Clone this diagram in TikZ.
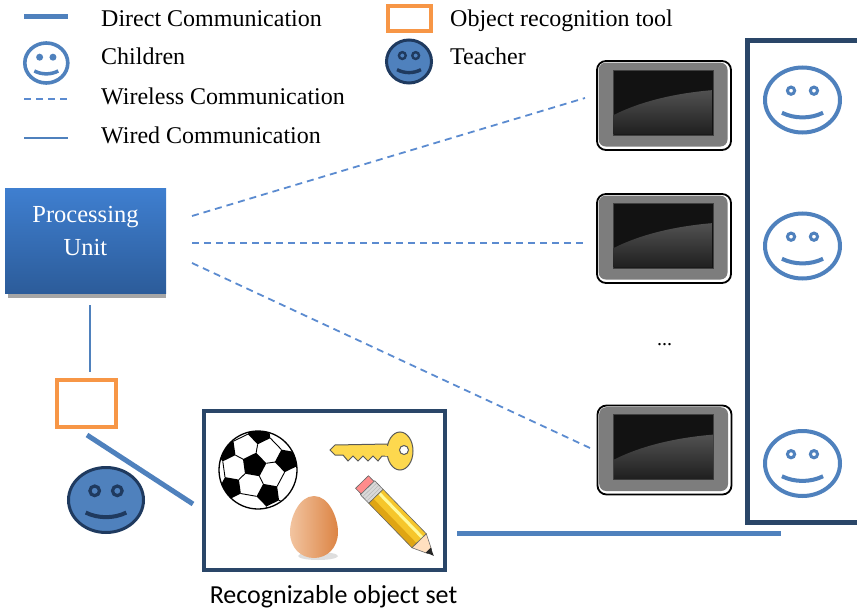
\documentclass[tikz,border=0pt]{standalone}
\usepackage{fontspec}
\setmainfont{Liberation Serif}
\newfontfamily\labelsans{Carlito}
\usetikzlibrary{shapes.geometric,calc}

\definecolor{linkblue}{HTML}{4F81BD}
\definecolor{wireblue}{HTML}{5B8BD0}
\definecolor{navy}{HTML}{2A4668}
\definecolor{toolorange}{HTML}{F79646}
\definecolor{teachedge}{HTML}{1F3A5F}
\definecolor{puTop}{HTML}{3F7FD0}
\definecolor{puBottom}{HTML}{2C5C9A}
\definecolor{keyyellow}{HTML}{FDD84E}
\definecolor{pencilyellow}{HTML}{F6C62B}
\definecolor{pencilshade}{HTML}{DFA514}
\definecolor{eggLight}{HTML}{F2C4A0}
\definecolor{eggDark}{HTML}{DC8444}

\tikzset{
  direct/.style={linkblue, line width=5pt},
  wired/.style={linkblue, line width=2pt},
  wireless/.style={wireblue, line width=1.8pt, dash pattern=on 7pt off 5pt},
  legendtext/.style={anchor=base west, inner sep=0pt, font=\fontsize{24}{28}\selectfont},
  kidface/.style={ellipse, draw=linkblue, line width=4pt, fill=white, inner sep=0pt},
  teacherface/.style={ellipse, draw=teachedge, line width=3pt, fill=linkblue, inner sep=0pt},
  toolbox/.style={draw=toolorange, line width=4pt, fill=white, inner sep=0pt},
  tabletbody/.style={draw=black, line width=1.8pt, fill=white, rounded corners=9pt,
    minimum width=134pt, minimum height=89pt, inner sep=0pt},
  unitbox/.style={shade, top color=puTop, bottom color=puBottom,
    minimum width=161pt, minimum height=105pt, inner sep=0pt},
  unittext/.style={text=white, inner sep=0pt, align=center,
    font=\fontsize{24.5}{33}\selectfont},
  setbox/.style={draw=navy, line width=4.5pt, fill=white, minimum width=241pt,
    minimum height=159pt, inner sep=0pt},
  kideye/.style={draw=linkblue, fill=white, line width=3pt, radius=3.6pt},
  kidmouth/.style={draw=linkblue, line width=4pt},
  tinyeye/.style={fill=linkblue, radius=3.5pt},
  tinymouth/.style={draw=linkblue, line width=3.5pt},
  teacheye/.style={draw=teachedge, fill=linkblue, line width=3.2pt, radius=4.8pt},
  teachmouth/.style={draw=teachedge, line width=4pt},
}

% eyes and mouth inside a face node: #1 node, #2 half width, #3 half height,
% #4 eye style, #5 mouth style
\newcommand\facemarks[5]{%
  \begin{scope}[shift={(#1.center)}, x=#2pt, y=-#3pt]
    \path[#4] (-0.29,-0.27) circle;
    \path[#4] (0.29,-0.27) circle;
    \path[#5] (-0.52,0.37) .. controls (-0.2,0.55) and (0.2,0.55) .. (0.52,0.37);
  \end{scope}}

% tablet with a glossy screen: #1 node name, #2 centre
\newcommand\tablet[2]{%
  \node[tabletbody] (#1) at (#2) {};
  \begin{scope}[shift={(#1.north west)}]
    \fill[gray!98!black, rounded corners=7pt] (2.6,2.6) rectangle (131.4,86.4);
    \fill[black!93, draw=black!75, line width=0.8pt] (17,10) rectangle (117,75);
    \shade[top color=black!68, bottom color=black!88]
      (17.4,74.6) -- (17.4,55) .. controls (45,41) and (80,33) .. (116.6,30)
      -- (116.6,74.6) -- cycle;
  \end{scope}}

% one pentagon of the ball: centre, radius, direction of one corner
\newcommand\ballpatch[3]{%
  \fill[black] ($(#1)+(#3:#2)$) -- ($(#1)+(#3+72:#2)$) -- ($(#1)+(#3+144:#2)$)
    -- ($(#1)+(#3+216:#2)$) -- ($(#1)+(#3+288:#2)$) -- cycle;}

\begin{document}
\begin{tikzpicture}[x=1pt, y=-1pt]
\useasboundingbox (0,0) rectangle (857,610);
\begin{scope}
\clip (0,0) rectangle (857,610);

% ---------- legend ----------
\coordinate (lg1a) at (24,17);  \coordinate (lg1b) at (68,17);
\draw[direct] (lg1a) -- (lg1b);
\node[legendtext] (lt1) at (101,26.5) {Direct Communication};

\node[kidface, line width=3.6pt, minimum width=43pt, minimum height=40pt] (lgkid) at (46.3,63) {};
\facemarks{lgkid}{23}{21.5}{tinyeye}{tinymouth}
\node[legendtext] (lt2) at (101,65) {Children};

\coordinate (lg3a) at (24,99.3); \coordinate (lg3b) at (68,99.3);
\draw[wireless] (lg3a) -- (lg3b);
\node[legendtext] (lt3) at (101,104) {Wireless Communication};

\coordinate (lg4a) at (24,137.7); \coordinate (lg4b) at (68,137.7);
\draw[wired] (lg4a) -- (lg4b);
\node[legendtext] (lt4) at (101,143) {Wired Communication};

\node[toolbox, minimum width=43pt, minimum height=25pt] (lgtool) at (409.5,18.5) {};
\node[legendtext] (lt5) at (450,26.5) {Object recognition tool};

\node[teacherface, minimum width=45pt, minimum height=43pt] (lgteach) at (409,61.5) {};
\facemarks{lgteach}{23}{22}{teacheye, radius=3.4pt, line width=2.4pt}{teachmouth, line width=3.4pt}
\node[legendtext] (lt6) at (450,65) {Teacher};

% ---------- processing unit ----------
\fill[black!35] (8,290) rectangle (166,298);
\node[unitbox] (pu) at (85.5,240.5) {};
\node[unittext] (putext) at (85.5,231.5) {Processing\\Unit};

% ---------- tablets ----------
\tablet{tab1}{664,105.5}
\tablet{tab2}{664,238.5}
\tablet{tab3}{664.5,450}
\node[inner sep=0pt, anchor=base, font=\fontsize{20}{24}\selectfont] (dots) at (664.5,345) {...};

% ---------- wireless links ----------
\coordinate (w1a) at (192,216); \coordinate (w1b) at (585,98);
\coordinate (w2a) at (192,243); \coordinate (w2b) at (585,243);
\coordinate (w3a) at (192,263); \coordinate (w3b) at (590,448);
\draw[wireless] (w1a) -- (w1b);
\draw[wireless] (w2a) -- (w2b);
\draw[wireless] (w3a) -- (w3b);

% ---------- children panel ----------
\coordinate (pnA) at (870,41);
\coordinate (pnB) at (747.5,41);
\coordinate (pnC) at (747.5,522.5);
\coordinate (pnD) at (870,522.5);
\draw[navy, line width=5pt] (pnA) -- (pnB) -- (pnC) -- (pnD);

\node[kidface, minimum width=75pt, minimum height=65pt] (kid1) at (802.5,100) {};
\facemarks{kid1}{39.5}{34.5}{kideye}{kidmouth}
\node[kidface, minimum width=75pt, minimum height=65pt] (kid2) at (802.5,246) {};
\facemarks{kid2}{39.5}{34.5}{kideye}{kidmouth}
\node[kidface, minimum width=75pt, minimum height=65pt] (kid3) at (802.5,463.5) {};
\facemarks{kid3}{39.5}{34.5}{kideye}{kidmouth}

% ---------- teacher side ----------
\node[toolbox, minimum width=59pt, minimum height=47pt] (tool) at (86.5,403.5) {};
\coordinate (wd1) at (90,305);
\coordinate (wd2) at (90,372);
\draw[wired, line width=1.5pt] (wd1) -- (wd2);

\node[teacherface, minimum width=75pt, minimum height=65pt] (teacher) at (106,500) {};
\facemarks{teacher}{39}{34}{teacheye}{teachmouth}

\coordinate (dr1) at (87,435);
\coordinate (dr2) at (193,504);
\draw[direct] (dr1) -- (dr2);

% ---------- object set ----------
\node[setbox] (objs) at (324.5,490.5) {};
\node[inner sep=0pt, anchor=base, font=\labelsans\fontsize{26}{30}\selectfont] (objlabel)
  at (333.5,603) {Recognizable object set};

\coordinate (dr3) at (457,533);
\coordinate (dr4) at (781,533);
\draw[direct] (dr3) -- (dr4);

% soccer ball: a central pentagon ringed by five more
\coordinate (ballc) at (258,470);
\coordinate (pc) at (254,465);
\begin{scope}
  \clip (ballc) circle (39);
  \fill[white] (ballc) circle (39);
  \ballpatch{pc}{12.5}{-80}
  \foreach \k in {0,...,4} {
    \pgfmathsetmacro\th{-80+72*\k}
    \coordinate (nb) at ($(pc)+(\th:33)$);
    \ballpatch{nb}{12}{\th+180}
    \draw[black, line width=0.9pt] ($(pc)+(\th:12.5)$) -- ($(nb)+(\th+180:12)$);
    \draw[black, line width=0.9pt] ($(nb)+(\th+108:12)$) -- ($(pc)+(\th+72:33)+(\th+72+252:12)$);
    \draw[black, line width=0.9pt] ($(nb)+(\th+36:12)$) -- ($(nb)+(\th+36:28)$);
    \draw[black, line width=0.9pt] ($(nb)+(\th-36:12)$) -- ($(nb)+(\th-36:28)$);
  }
\end{scope}
\draw[black, line width=1.3pt] (ballc) circle (39);

% key
\begin{scope}[line width=1pt]
  \draw[gray!70!black, fill=keyyellow]
    (330,450) -- (335,445) -- (388,444) -- (388,456) -- (382,456)
    -- (378,461) -- (373,456) -- (368,461) -- (363,456) -- (358,461)
    -- (353,456) -- (348,461) -- (343,455) -- (335,455) -- cycle;
  \draw[gray!70!black, fill=keyyellow] (400,451) ellipse (13 and 19);
  \fill[keyyellow] (385,445.5) rectangle (392,455.5);
  \draw[gray!70!black, fill=white] (404,450) circle (4.5);
\end{scope}

% egg
\fill[black!25, opacity=0.5] (318,556) ellipse (20 and 4);
\shade[left color=eggLight, right color=eggDark]
  (314,496) .. controls (329,496) and (338,518) .. (338,532)
  .. controls (338,548) and (327,558) .. (314,558)
  .. controls (301,558) and (290,548) .. (290,532)
  .. controls (290,518) and (299,496) .. (314,496);

% pencil
\begin{scope}[shift={(362,482)}, rotate=-45.8]
  \draw[black!60, line width=0.6pt, fill=red!45!white] (0,-9) rectangle (8,9);
  \draw[black!60, line width=0.6pt, fill=gray!30] (8,-10) rectangle (20,10);
  \draw[gray!60] (11,-10) -- (11,10) (14,-10) -- (14,10) (17,-10) -- (17,10);
  \fill[pencilyellow] (20,-10) rectangle (82,10);
  \fill[pencilshade] (20,3.5) rectangle (82,10);
  \fill[yellow!40!white] (20,-6) rectangle (82,-3);
  \draw[black!60, line width=0.6pt] (20,-10) rectangle (82,10);
  \draw[black!60, line width=0.6pt, fill=orange!25!white] (82,-10) -- (97,-2.8) -- (97,2.8) -- (82,10) -- cycle;
  \fill[black!85] (95,-3.5) -- (103,0) -- (95,3.5) -- cycle;
\end{scope}
\end{scope}
\end{tikzpicture}
\end{document}
